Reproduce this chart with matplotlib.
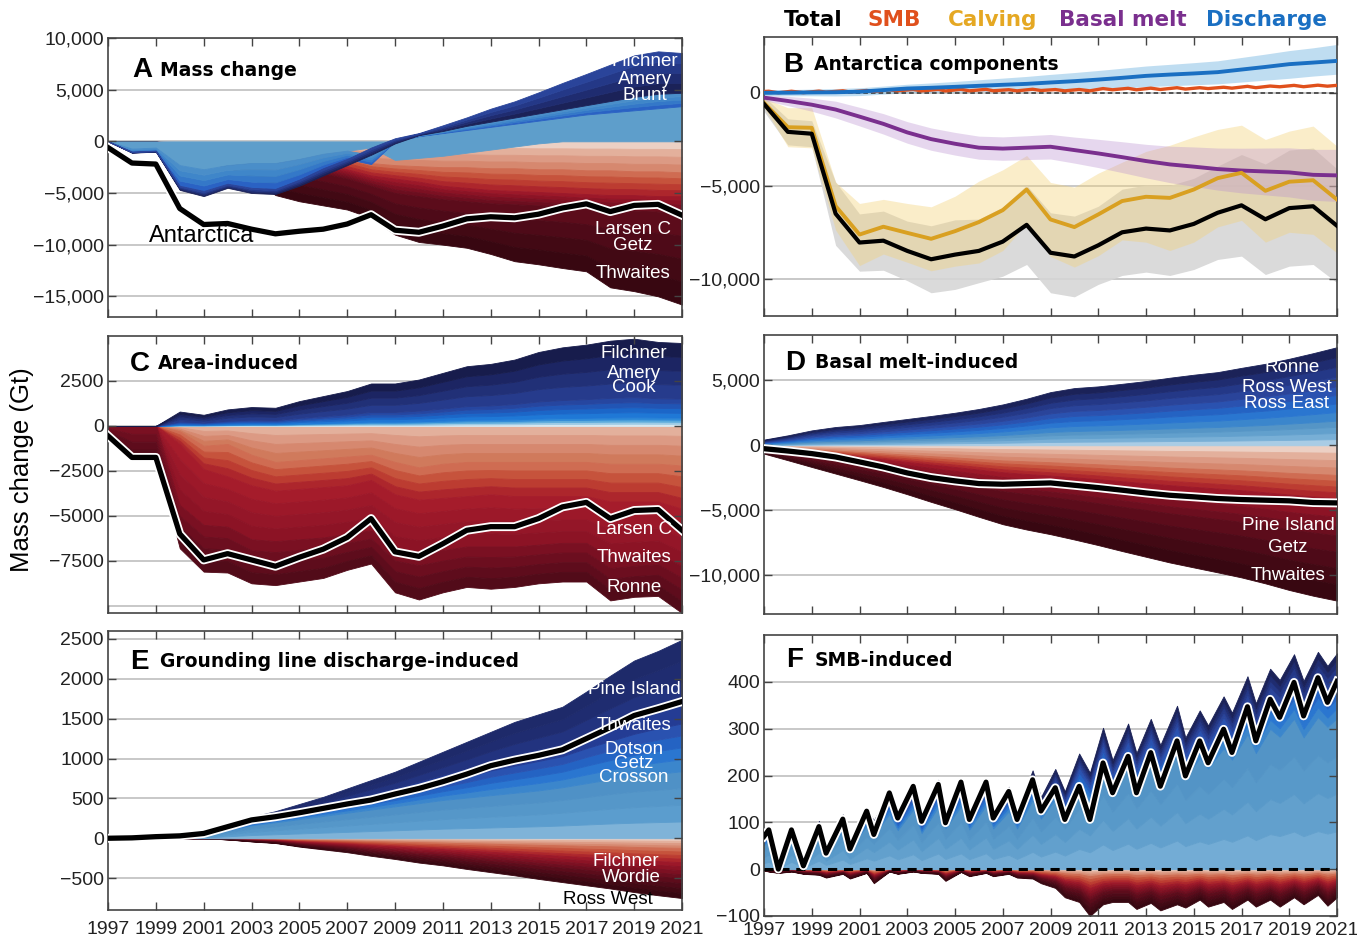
import matplotlib
matplotlib.use("Agg")
import matplotlib.pyplot as plt
import matplotlib.patheffects as pe
import numpy as np

plt.rcParams['font.family'] = ['Liberation Sans', 'DejaVu Sans']

# ---------------- data (Gt) ----------------
years = list(range(1997, 2022))

# A: mass change
a_total = [-600, -2100, -2200, -6500, -8050, -7950, -8500, -8950, -8700, -8500, -8000, -7100, -8600,
           -8800, -8200, -7500, -7300, -7400, -7050, -6450, -6050, -6800, -6200, -6100, -7150]
a_light_lo = [0, -700, -600, -2300, -2700, -2300, -2100, -2100, -1700, -1200, -900, -600, -1800,
              -1600, -1400, -1100, -800, -500, -200, 0, 0, 0, 0, 0, 0]
a_light_hi = [0, 0, 0, 0, 0, 0, 0, 0, 0, 0, 0, 0, 0,
              500, 800, 1100, 1400, 1700, 2000, 2300, 2600, 2800, 3000, 3200, 3400]
a_mid_lo = [0, -1000, -900, -4300, -4800, -4100, -4500, -4600, -3700, -2600, -1700, -2200, 0,
            500, 800, 1100, 1400, 1700, 2000, 2300, 2600, 2800, 3000, 3200, 3400]
a_mid_hi = [0, -700, -600, -2300, -2700, -2300, -2100, -2100, -1700, -1200, -900, -1300, 0,
            600, 1000, 1500, 1900, 2300, 2700, 3100, 3500, 3900, 4300, 4600, 4700]
a_nav_lo = [0, -1100, -1000, -4700, -5300, -4500, -5000, -5100, -4300, -3300, -2300, -1300, -200,
            600, 1000, 1500, 1900, 2300, 2700, 3100, 3500, 3900, 4300, 4600, 4700]
a_nav_hi = [0, -1000, -900, -4300, -4800, -4100, -4500, -4600, -3700, -2600, -1700, -600, 300,
            800, 1550, 2320, 3160, 3870, 4740, 5650, 6520, 7420, 8320, 8710, 8550]
a_sal = [0, 0, 0, -300, -500, -600, -700, -800, -900, -1000, -1500, -2100, -2300,
         -2400, -2500, -2500, -2600, -2600, -2700, -2700, -2800, -2800, -2900, -2900, -3000]
a_red = [0, 0, 0, -600, -900, -1000, -1200, -1500, -1800, -2200, -2700, -3300, -3600,
         -3900, -4300, -4500, -4700, -4800, -4900, -5000, -5100, -5200, -5200, -5300, -5300]
a_crim = [0, 0, 0, -900, -1300, -1500, -1800, -2200, -2600, -3100, -3600, -4300, -5000,
          -5300, -5600, -5800, -6000, -6100, -6200, -6300, -6500, -6600, -6700, -6800, -6900]
a_bot = [0, 0, 0, -1500, -2200, -2500, -3500, -5200, -5800, -6200, -6600, -7400, -9030,
         -9740, -10000, -10300, -10900, -11600, -11900, -12260, -12580, -14130, -14500, -15000, -15800]

# B: components (total = a_total, basal melt = d_total, discharge = e_total)
tot_lo = [-1000, -2800, -2900, -8200, -9590, -9540, -10100, -10750, -10570, -10210, -9860, -9230, -10750,
          -10970, -10300, -9820, -9640, -9820, -9500, -8960, -8780, -9770, -9320, -9230, -10210]
tot_hi = [-200, -1400, -1500, -4800, -6510, -6360, -6900, -7150, -6830, -6790, -6140, -4970, -6450,
          -6630, -6100, -5180, -4960, -4980, -4600, -3940, -3320, -3830, -3080, -2970, -4090]
calving = [-540, -1850, -1880, -6090, -7620, -7200, -7530, -7850, -7440, -6950, -6310, -5200, -6810,
           -7220, -6540, -5820, -5590, -5650, -5200, -4590, -4300, -5270, -4780, -4700, -5740]
calv_hi = [-300, -800, -800, -4800, -5950, -5730, -5950, -6130, -5560, -4750, -4140, -3370, -4820,
           -5070, -4320, -3730, -3150, -2820, -2370, -1970, -1740, -2510, -2060, -1790, -2870]
calv_lo = [-780, -2900, -2960, -7380, -9290, -8670, -9110, -9570, -9320, -9150, -8480, -7030, -8800,
           -9370, -8760, -7910, -8030, -8480, -8030, -7210, -6860, -8030, -7500, -7610, -8610]
melt_hi = [-110, -190, -290, -450, -780, -1120, -1550, -1890, -2130, -2330, -2370, -2310, -2240,
           -2380, -2500, -2630, -2770, -2870, -2910, -2970, -2980, -2970, -2960, -3040, -3040]
melt_lo = [-410, -690, -990, -1350, -1780, -2220, -2710, -3090, -3350, -3570, -3630, -3590, -3560,
           -3780, -4020, -4290, -4570, -4830, -5030, -5230, -5380, -5490, -5600, -5780, -5840]
dis_hi = [150, 170, 200, 230, 270, 360, 460, 530, 610, 700, 790, 880, 990,
          1090, 1200, 1320, 1440, 1530, 1620, 1720, 1900, 2080, 2270, 2420, 2600]
dis_lo = [-150, -160, -160, -170, -150, -70, 0, 20, 40, 60, 80, 100, 130,
          170, 210, 260, 330, 380, 430, 480, 580, 680, 780, 900, 1000]

# C: area-induced
c_total = [-550, -1750, -1750, -6000, -7450, -7100, -7450, -7800, -7300, -6850, -6200, -5150, -7000,
           -7250, -6550, -5800, -5600, -5600, -5150, -4500, -4250, -5150, -4700, -4650, -5800]
c_top = [0, 0, 0, 800, 620, 920, 1050, 1010, 1380, 1660, 1940, 2360, 2360,
         2580, 2950, 3320, 3450, 3690, 4110, 4370, 4520, 4740, 4850, 4670, 4610]
c_pos_light = [0, 0, 0, 60, 60, 90, 100, 100, 140, 170, 200, 240, 240,
               260, 300, 340, 350, 370, 410, 440, 450, 470, 480, 470, 460]
c_pos_mid = [0, 0, 0, 260, 200, 300, 350, 330, 450, 550, 640, 780, 780,
             850, 970, 1100, 1140, 1220, 1360, 1440, 1490, 1560, 1600, 1540, 1520]
c_sal = [0, 0, 0, -300, -1100, -1000, -1600, -2000, -1900, -1800, -1700, -1600, -2000,
         -2300, -2100, -2000, -2000, -2000, -2000, -2000, -2000, -2100, -2100, -2100, -2200]
c_red = [0, 0, 0, -1000, -2400, -2800, -3300, -3600, -3500, -3400, -3300, -3000, -3800,
         -4100, -4000, -3900, -3800, -3900, -3900, -3900, -3900, -4200, -4200, -4200, -4600]
c_crim = [0, 0, 0, -4400, -5500, -5600, -6300, -6400, -6300, -6200, -6000, -5800, -6900,
          -7100, -6900, -6700, -6700, -6700, -6600, -6500, -6500, -7300, -7200, -7100, -7800]
c_bot = [-550, -1750, -1750, -6800, -8100, -8150, -8750, -8850, -8650, -8450, -8000, -7650, -9250,
         -9650, -9250, -8950, -9050, -8950, -8750, -8650, -8650, -9700, -9500, -9450, -10400]

# D: basal melt-induced
d_total = [-260, -440, -640, -900, -1280, -1670, -2130, -2490, -2740, -2950, -3000, -2950, -2900,
           -3080, -3260, -3460, -3670, -3850, -3970, -4100, -4180, -4230, -4280, -4410, -4440]
d_top = [440, 770, 1150, 1410, 1560, 1800, 2030, 2260, 2510, 2800, 3150, 3590, 4100,
         4410, 4540, 4740, 4950, 5210, 5440, 5640, 5970, 6280, 6670, 7100, 7560]
d_pos_light = [110, 190, 290, 350, 390, 450, 510, 570, 630, 700, 790, 900, 1030,
               1100, 1140, 1190, 1240, 1300, 1360, 1410, 1490, 1570, 1670, 1780, 1900]
d_pos_mid = [260, 460, 690, 850, 940, 1080, 1220, 1360, 1510, 1680, 1890, 2150, 2460,
             2650, 2720, 2840, 2970, 3130, 3260, 3380, 3580, 3770, 4000, 4260, 4540]
d_sal = [-120, -220, -320, -410, -510, -610, -720, -830, -930, -1050, -1160, -1230, -1300,
         -1380, -1460, -1550, -1630, -1720, -1790, -1860, -1930, -2020, -2120, -2200, -2280]
d_red = [-220, -390, -570, -740, -910, -1090, -1280, -1480, -1670, -1870, -2070, -2210, -2330,
         -2470, -2610, -2770, -2920, -3070, -3200, -3330, -3460, -3620, -3790, -3940, -4070]
d_crim = [-370, -670, -970, -1260, -1560, -1860, -2190, -2530, -2850, -3200, -3530, -3760, -3970,
          -4210, -4460, -4730, -4980, -5240, -5460, -5680, -5900, -6170, -6470, -6720, -6940]
d_bot = [-640, -1150, -1670, -2180, -2690, -3210, -3770, -4360, -4920, -5510, -6080, -6490, -6850,
         -7260, -7690, -8150, -8590, -9030, -9410, -9790, -10180, -10640, -11150, -11590, -11970]

# E: grounding line discharge-induced
e_total = [0, 5, 20, 30, 60, 145, 230, 270, 320, 375, 430, 480, 555,
           625, 710, 805, 910, 980, 1040, 1110, 1250, 1390, 1540, 1625, 1715]
e_top = [0, 5, 20, 30, 60, 160, 270, 340, 430, 520, 625, 730, 835,
         960, 1085, 1210, 1335, 1460, 1555, 1650, 1840, 2040, 2230, 2350, 2490]
e_pos_light = [0, 3, 12, 18, 40, 100, 160, 200, 240, 280, 320, 360, 400,
               440, 480, 510, 540, 570, 600, 640, 690, 740, 780, 810, 840]
e_pos_mid = [0, 4, 16, 24, 50, 130, 210, 260, 320, 380, 440, 500, 560,
             630, 700, 770, 850, 910, 970, 1030, 1130, 1220, 1310, 1380, 1440]
e_sal = [0, 0, 0, 0, 0, -3, -7, -10, -17, -22, -28, -35, -42,
         -49, -55, -62, -68, -75, -82, -88, -95, -100, -108, -115, -120]
e_red = [0, 0, 0, 0, 0, -6, -16, -24, -42, -56, -70, -88, -104,
         -122, -136, -154, -170, -186, -204, -220, -236, -252, -270, -286, -300]
e_crim = [0, 0, 0, 0, 0, -10, -27, -40, -70, -94, -117, -147, -174,
          -204, -228, -258, -285, -312, -342, -368, -395, -422, -452, -479, -502]
e_bot = [0, 0, 0, 0, 0, -15, -40, -60, -105, -140, -175, -220, -260,
         -305, -340, -385, -425, -465, -510, -550, -590, -630, -675, -715, -750]

# F: SMB-induced (seasonal peaks and troughs)
f_time = [1997.0, 1997.2, 1997.6, 1998.15, 1998.65, 1999.3, 1999.6, 2000.3, 2000.6, 2001.3, 2001.6,
          2002.25, 2002.6, 2003.25, 2003.6, 2004.3, 2004.6, 2005.25, 2005.6, 2006.3, 2006.6,
          2007.25, 2007.6, 2008.25, 2008.6, 2009.2, 2009.6, 2010.2, 2010.65, 2011.2, 2011.6,
          2012.25, 2012.6, 2013.2, 2013.6, 2014.3, 2014.65, 2015.25, 2015.6, 2016.25, 2016.6,
          2017.25, 2017.6, 2018.2, 2018.6, 2019.2, 2019.6, 2020.2, 2020.6, 2021.0]
f_total = [70, 84, 0, 84, 7, 91, 34, 107, 43, 124, 74,
           163, 109, 177, 102, 181, 99, 186, 106, 186, 109,
           166, 106, 191, 124, 174, 106, 177, 106, 227, 163,
           241, 163, 249, 177, 274, 199, 274, 227, 299, 249,
           347, 274, 363, 324, 399, 327, 409, 356, 401]
f_neg = [-3, -5, -8, -5, -10, -12, -18, -10, -20, -8, -30,
         -5, -10, -5, -8, -10, -25, -6, -15, -8, -15,
         -10, -18, -20, -30, -40, -60, -70, -100, -75, -70,
         -70, -85, -72, -88, -75, -82, -65, -80, -70, -85,
         -65, -80, -65, -80, -60, -75, -55, -78, -60]
f_pos_share = [0.7, 0.88]     # light / mid boundaries as share of positive envelope
f_neg_share = [0.15, 0.4, 0.65]

# ---------------- colours ----------------
BL_LIGHT = ['#a9cce5', '#78afd6', '#62a0cd', '#5595c6']
BL_MID = ['#3b86cc', '#2a76d0', '#2463c3', '#2a52b0']
BL_DARK = ['#2a449a', '#243887', '#1f2c70', '#1b2258']
RD_LIGHT = ['#ecd0c4', '#e3b09c', '#dc9a84', '#d6886f']
RD_MID = ['#cf6c52', '#c6533c', '#bc3c31', '#ad262c']
RD_CRIM = ['#9c1829', '#8c1325', '#7c1022', '#6c0e1f']
RD_DARK = ['#5c0c1b', '#4e0a18', '#420914', '#380711']

W, H = 1357, 941
fig = plt.figure(figsize=(W / 100, H / 100), dpi=100)


def panel(l, r, t, b):
    return fig.add_axes([l / W, 1 - b / H, (r - l) / W, (b - t) / H])


def layered(ax, x, inner, outer, shades):
    inner = np.asarray(inner, float)
    outer = np.asarray(outer, float)
    n = len(shades)
    for k, c in enumerate(shades):
        lo = inner + (outer - inner) * k / n
        hi = inner + (outer - inner) * (k + 1) / n
        ax.fill_between(x, lo, hi, color=c, lw=0.6, edgecolor=c, zorder=1)


def total_line(ax, x, y, lw=3.8):
    ax.plot(x, y, color='black', lw=lw, zorder=6,
            path_effects=[pe.Stroke(linewidth=lw + 2.6, foreground='white'), pe.Normal()])


def style(ax, yticks, ylabels, ylim, xlabels=False, grid_extra=()):
    ax.set_xlim(1997, 2021)
    ax.set_ylim(*ylim)
    ax.set_xticks(range(1997, 2022, 2))
    ax.set_yticks(yticks)
    ax.set_yticklabels(ylabels)
    if not xlabels:
        ax.set_xticklabels([])
    ax.tick_params(direction='in', top=True, right=True, length=6, width=1,
                   labelsize=14, pad=3, colors='#444444', labelcolor='#222222')
    ax.tick_params(axis='x', pad=8)
    for s in ax.spines.values():
        s.set_color('#444444')
        s.set_linewidth(1.2)
    for y in list(yticks) + list(grid_extra):
        ax.axhline(y, color='#c4c4c4', lw=1.3, zorder=0)


def title(ax, letter, text, xl, yl, xt):
    ax.text(xl, yl, letter, transform=ax.transAxes, fontsize=20, fontweight='bold',
            va='center', ha='left', zorder=10)
    ax.text(xt, yl, text, transform=ax.transAxes, fontsize=13.5, fontweight='bold',
            family='DejaVu Sans', va='center', ha='left', zorder=10)


def label(x, y, s, color='white', size=13.5):
    fig.text(x / W, 1 - y / H, s, color=color, fontsize=size, ha='center', va='center', zorder=20)


zeros = [0] * len(years)

# ---------------- A ----------------
axA = panel(108, 682, 38, 317)
layered(axA, years, zeros, a_sal, RD_LIGHT)
layered(axA, years, a_sal, a_red, RD_MID)
layered(axA, years, a_red, a_crim, RD_CRIM)
layered(axA, years, a_crim, a_bot, RD_DARK)
axA.fill_between(years, a_light_lo, a_light_hi, color='#5e9ecb', lw=0.6, edgecolor='#5e9ecb', zorder=1)
layered(axA, years, a_mid_lo, a_mid_hi, ['#2a62c4', '#3478c8', '#3f86c9', '#4a8ec9'])
layered(axA, years, a_nav_lo, a_nav_hi, BL_DARK[::-1])
total_line(axA, years, a_total)
style(axA, [-15000, -10000, -5000, 0, 5000, 10000],
      ['\u221215,000', '\u221210,000', '\u22125,000', '0', '5,000', '10,000'], (-17000, 10000))
title(axA, 'A', 'Mass change', 0.042, 0.885, 0.091)
label(202, 236, 'Antarctica', color='black', size=17)
for s, y in [('Filchner', 62), ('Amery', 79), ('Brunt', 95)]:
    label(645, y, s)
for s, y in [('Larsen C', 229), ('Getz', 246), ('Thwaites', 273)]:
    label(633, y, s)

# ---------------- B ----------------
axB = panel(764, 1337, 37, 316)
axB.fill_between(years, tot_lo, tot_hi, color='#d6d6d6', lw=0, alpha=0.9, zorder=1)
axB.fill_between(years, calv_lo, calv_hi, color='#f3d27a', lw=0, alpha=0.4, zorder=2)
axB.fill_between(years, melt_lo, melt_hi, color='#b98fcf', lw=0, alpha=0.35, zorder=2)
axB.fill_between(years, dis_lo, dis_hi, color='#8cc2e6', lw=0, alpha=0.55, zorder=2)
axB.axhline(0, color='#333333', lw=1.1, ls=(0, (3, 2)), zorder=3)
axB.plot(f_time, f_total, color='#e0501c', lw=2.4, zorder=4)
axB.plot(years, e_total, color='#1a6fc2', lw=2.8, zorder=4)
axB.plot(years, d_total, color='#7a2f8e', lw=2.8, zorder=4)
axB.plot(years, calving, color='#d9a021', lw=2.8, zorder=4)
axB.plot(years, a_total, color='black', lw=3.0, zorder=5)
style(axB, [-10000, -5000, 0], ['\u221210,000', '\u22125,000', '0'], (-12000, 3000))
title(axB, 'B', 'Antarctica components', 0.033, 0.9, 0.087)

for s, x, c in [('Total', 813, 'black'), ('SMB', 894, '#e0501c'), ('Calving', 993, '#e5a823'),
                ('Basal melt', 1123, '#7a2f8e'), ('Discharge', 1266, '#1a6fc2')]:
    fig.text(x / W, 1 - 20 / H, s, color=c, fontsize=15.5, fontweight='bold',
             family='DejaVu Sans', ha='center', va='center')

# ---------------- C ----------------
axC = panel(108, 682, 336, 613)
layered(axC, years, zeros, c_sal, RD_LIGHT[1:] + ['#d07a5c'])
layered(axC, years, c_sal, c_red, RD_MID)
layered(axC, years, c_red, c_crim, ['#a51c2b', '#9c1829', '#941628', '#8c1325'])
layered(axC, years, c_crim, c_bot, ['#7a1022', '#6c0e1f', '#5e0c1c', '#520b19'])
layered(axC, years, zeros, c_pos_light, ['#d8e8f0', '#9ccbe6', '#5cabdc', '#2f8ad8'])
layered(axC, years, c_pos_light, c_pos_mid, ['#1f78d6', '#1b66c8', '#2155b5', '#2646a0'])
layered(axC, years, c_pos_mid, c_top, ['#263b8c', '#213077', '#1c2563', '#171c4c'])
total_line(axC, years, c_total)
style(axC, [-7500, -5000, -2500, 0, 2500],
      ['\u22127500', '\u22125000', '\u22122500', '0', '2500'], (-10400, 5000), grid_extra=[-10000])
title(axC, 'C', 'Area-induced', 0.038, 0.9, 0.087)
for s, y in [('Filchner', 354), ('Amery', 373), ('Cook', 388), ('Larsen C', 530),
             ('Thwaites', 558), ('Ronne', 587)]:
    label(634, y, s)

# ---------------- D ----------------
axD = panel(764, 1337, 335, 614)
layered(axD, years, zeros, d_sal, RD_LIGHT)
layered(axD, years, d_sal, d_red, RD_MID)
layered(axD, years, d_red, d_crim, RD_CRIM)
layered(axD, years, d_crim, d_bot, RD_DARK)
layered(axD, years, zeros, d_pos_light, BL_LIGHT)
layered(axD, years, d_pos_light, d_pos_mid, BL_MID)
layered(axD, years, d_pos_mid, d_top, BL_DARK)
total_line(axD, years, d_total)
style(axD, [-10000, -5000, 0, 5000], ['\u221210,000', '\u22125,000', '0', '5,000'], (-13000, 8500))
title(axD, 'D', 'Basal melt-induced', 0.037, 0.9, 0.089)
for s, x, y in [('Ronne', 1292, 367), ('Ross West', 1287, 387), ('Ross East', 1287, 404),
                ('Pine Island', 1288, 526), ('Getz', 1288, 548), ('Thwaites', 1288, 575)]:
    label(x, y, s)

# ---------------- E ----------------
axE = panel(108, 682, 631, 910)
layered(axE, years, zeros, e_sal, RD_LIGHT)
layered(axE, years, e_sal, e_red, RD_MID)
layered(axE, years, e_red, e_crim, RD_CRIM)
layered(axE, years, e_crim, e_bot, RD_DARK)
layered(axE, years, zeros, e_pos_light, ['#7fb3d8', '#5b9dce', '#5597c9', '#4f91c6'])
layered(axE, years, e_pos_light, e_pos_mid, BL_MID)
layered(axE, years, e_pos_mid, e_top, ['#243c94', '#22337f', '#1f2c70', '#1e2a6a'])
total_line(axE, years, e_total)
style(axE, [-500, 0, 500, 1000, 1500, 2000, 2500],
      ['\u2212500', '0', '500', '1000', '1500', '2000', '2500'], (-900, 2600), xlabels=True)
title(axE, 'E', 'Grounding line discharge-induced', 0.038, 0.89, 0.091)
for s, y in [('Pine Island', 689), ('Thwaites', 725), ('Dotson', 749), ('Getz', 763), ('Crosson', 777)]:
    label(634, y, s)
label(626, 861, 'Filchner')
label(631, 877, 'Wordie')
label(608, 900, 'Ross West', color='black')

# ---------------- F ----------------
axF = panel(764, 1337, 635, 916)
f_tot = np.array(f_total, float)
f_ng = np.array(f_neg, float)
f_top = f_tot - f_ng
f_zero = np.zeros_like(f_tot)
layered(axF, f_time, f_zero, f_ng * f_neg_share[0], RD_LIGHT)
layered(axF, f_time, f_ng * f_neg_share[0], f_ng * f_neg_share[1], RD_MID)
layered(axF, f_time, f_ng * f_neg_share[1], f_ng * f_neg_share[2], RD_CRIM)
layered(axF, f_time, f_ng * f_neg_share[2], f_ng, RD_DARK)
layered(axF, f_time, f_zero, f_top * f_pos_share[0], ['#73acd5', '#62a0cd', '#5899c9', '#5394c6'])
layered(axF, f_time, f_top * f_pos_share[0], f_top * f_pos_share[1], BL_MID)
layered(axF, f_time, f_top * f_pos_share[1], f_top, BL_DARK)
axF.axhline(0, color='black', lw=2.2, ls=(0, (3, 2.2)), zorder=5)
total_line(axF, f_time, f_total, lw=3.6)
style(axF, [-100, 0, 100, 200, 300, 400],
      ['\u2212100', '0', '100', '200', '300', '400'], (-100, 500), xlabels=True)
axF.tick_params(axis='x', pad=4)
title(axF, 'F', 'SMB-induced', 0.038, 0.91, 0.089)

fig.text(22 / W, 1 - 470 / H, 'Mass change (Gt)', rotation=90, fontsize=18.5,
         ha='center', va='center')

fig.savefig('out.png', dpi=100)
